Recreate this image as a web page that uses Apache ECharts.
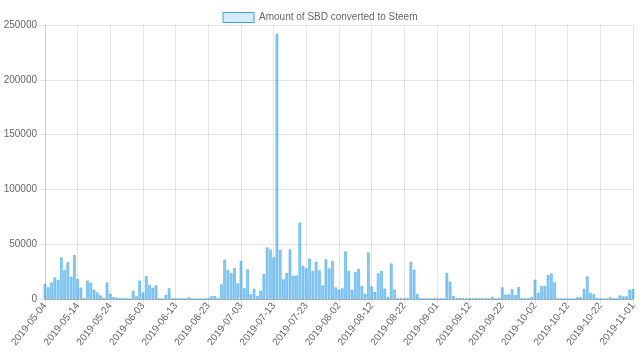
<!DOCTYPE html>
<html>
<head>
<meta charset="utf-8">
<script src="https://cdn.jsdelivr.net/npm/echarts@6/dist/echarts.min.js"></script>
<style>html,body{margin:0;padding:0;background:#fff}#c{width:640px;height:361px}</style>
</head>
<body>
<div id="c"></div>
<script>
// Dates (one day missing in early September in the source data)
function buildDates(){
  const out=[]; const d=new Date(Date.UTC(2019,4,4));
  while(out.length<181){
    const s=d.toISOString().slice(0,10);
    if(s!=='2019-09-07') out.push(s);
    d.setUTCDate(d.getUTCDate()+1);
  }
  return out;
}
const categories = buildDates();
const seriesName = 'Amount of SBD converted to Steem';
const values = [
13600,10600,15000,19700,17300,37900,26400,33600,20300,40000,
18200,10300,900,16700,14800,8500,6000,3300,900,15000,
4800,1800,1200,900,300,0,0,7300,2400,16700,
6000,20900,12700,10300,12400,0,0,3600,9700,0,
0,0,0,0,1500,0,0,0,0,0,
900,2400,2700,0,13300,35800,26400,23600,28200,14200,
34500,9700,27000,4500,9100,2700,7600,22700,47000,45100,
37900,242000,44800,17900,23600,45100,21200,21500,69700,30300,
28200,36700,25500,33900,26100,12400,36100,27900,34500,10600,
8500,9700,43300,25500,8500,24500,27300,11800,4500,42400,
11500,6400,23300,25500,9400,1800,32400,8500,0,600,
600,900,33900,26700,4500,0,0,0,0,600,
600,0,0,23600,15800,2700,900,600,600,600,
600,0,900,300,300,600,0,1800,0,600,
10600,3900,4200,8800,3600,10900,300,300,300,1800,
17600,5500,11800,11800,21800,23300,15200,0,0,0,
0,0,0,1500,1500,9100,20600,5500,4200,900,
0,0,0,1500,0,0,3300,2400,2400,8500,
9100
];
const yTicks = [0,50000,100000,150000,200000,250000];

const chart = echarts.init(document.getElementById('c'), null, {renderer:'canvas'});
const font = '"Liberation Sans", Arial, Helvetica, sans-serif';
chart.setOption({
  animation:false,
  textStyle:{fontFamily:font},
  legend:{
    top:7, left:'center', itemWidth:31, itemHeight:10, itemGap:10,
    icon:'rect',
    textStyle:{color:'#666', fontSize:10, fontFamily:font},
    data:[{name:seriesName, itemStyle:{color:'rgba(54,162,235,0.2)', borderColor:'rgba(54,162,235,1)', borderWidth:1}}]
  },
  grid:{left:45, right:7, top:25, bottom:62, containLabel:false, outerBoundsMode:'none'},
  xAxis:{
    type:'category', data:categories, boundaryGap:false,
    axisLine:{show:true, lineStyle:{color:'rgba(0,0,0,0.25)', width:1}},
    axisTick:{show:true, interval:9, length:5, lineStyle:{color:'rgba(0,0,0,0.1)'}},
    axisLabel:{interval:9, rotate:52, color:'#666', fontSize:10, fontFamily:font, margin:5, hideOverlap:false},
    splitLine:{show:true, interval:9, lineStyle:{color:'rgba(0,0,0,0.1)', width:1}}
  },
  yAxis:{
    type:'value', min:0, max:yTicks[yTicks.length-1], interval:50000,
    axisLine:{show:true, lineStyle:{color:'rgba(0,0,0,0.1)'}},
    axisTick:{show:true, length:7, lineStyle:{color:'rgba(0,0,0,0.1)'}},
    axisLabel:{color:'#666', fontSize:10, fontFamily:font, margin:8, formatter:function(v){return String(v);}},
    splitLine:{show:true, lineStyle:{color:'rgba(0,0,0,0.1)'}}
  },
  series:[{
    name:seriesName, type:'bar', data:values, barWidth:2.6,
    itemStyle:{color:'rgba(54,162,235,0.55)', borderColor:'rgba(54,162,235,0.9)', borderWidth:0.6}
  }]
});
</script>
</body>
</html>
